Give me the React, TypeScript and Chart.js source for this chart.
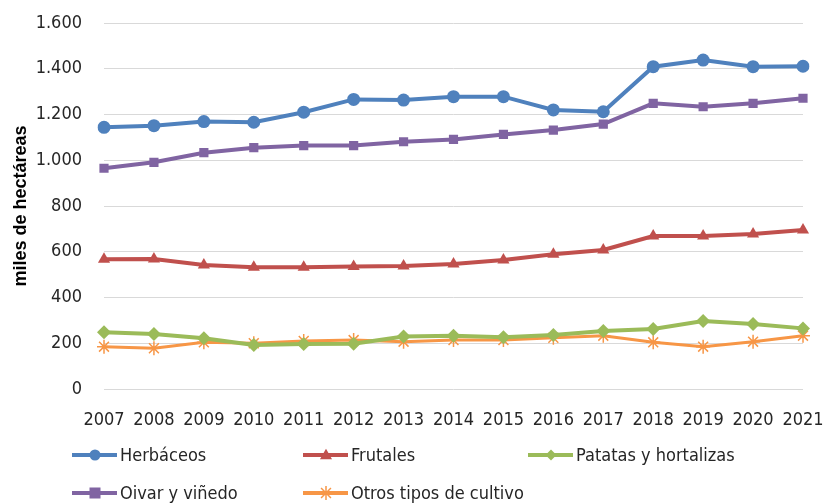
import React, { useEffect, useRef } from "react";
import { Chart, registerables } from "chart.js";

Chart.register(...registerables);

const years = ["2007","2008","2009","2010","2011","2012","2013","2014","2015","2016","2017","2018","2019","2020","2021"];
const herbaceos = [1144,1151,1169,1166,1210,1266,1263,1278,1278,1220,1212,1409,1438,1409,1411];
const frutales = [567,568,542,532,532,536,538,546,564,589,608,669,669,678,695];
const patatas = [248,240,222,192,197,198,229,233,226,236,254,262,297,284,265];
const olivar = [965,991,1033,1055,1064,1064,1081,1091,1113,1132,1158,1249,1234,1249,1271];
const otros = [185,178,204,200,210,214,207,214,214,224,233,204,185,207,233];

const FONT = "'Liberation Sans Narrow', 'DejaVu Sans Condensed', 'Arial Narrow', sans-serif";
const TEXT = "#262626";

function fmt(v: number) {
  const s = String(Math.round(v));
  return s.replace(/\B(?=(\d{3})+(?!\d))/g, ".");
}

function drawMarker(ctx: CanvasRenderingContext2D, style: string, x: number, y: number, r: number, color: string) {
  ctx.save();
  ctx.fillStyle = color;
  ctx.strokeStyle = color;
  ctx.beginPath();
  if (style === "circle") {
    ctx.arc(x, y, r, 0, Math.PI * 2);
    ctx.fill();
  } else if (style === "triangle") {
    const h = r * 1.9;
    ctx.moveTo(x, y - h * 0.6);
    ctx.lineTo(x + r * 1.1, y + h * 0.4);
    ctx.lineTo(x - r * 1.1, y + h * 0.4);
    ctx.closePath();
    ctx.fill();
  } else if (style === "rectRot") {
    ctx.moveTo(x, y - r);
    ctx.lineTo(x + r, y);
    ctx.lineTo(x, y + r);
    ctx.lineTo(x - r, y);
    ctx.closePath();
    ctx.fill();
  } else if (style === "rect") {
    ctx.fillRect(x - r, y - r, r * 2, r * 2);
  } else if (style === "star") {
    ctx.lineWidth = 1.5;
    for (let i = 0; i < 4; i++) {
      const a = (i * Math.PI) / 4;
      ctx.moveTo(x - Math.cos(a) * r, y - Math.sin(a) * r);
      ctx.lineTo(x + Math.cos(a) * r, y + Math.sin(a) * r);
    }
    ctx.stroke();
  }
  ctx.restore();
}

const gridLegend = {
  id: "gridLegend",
  afterDraw(chart: any) {
    const ctx = chart.ctx as CanvasRenderingContext2D;
    const cols = [72, 303, 528];
    const rows = [455, 493];
    chart.data.datasets.forEach((ds: any, i: number) => {
      const x = cols[i % 3];
      const y = rows[Math.floor(i / 3)];
      ctx.save();
      ctx.strokeStyle = ds.borderColor;
      ctx.lineWidth = 4;
      ctx.beginPath();
      ctx.moveTo(x, y);
      ctx.lineTo(x + 45, y);
      ctx.stroke();
      ctx.restore();
      drawMarker(ctx, ds.pointStyle, x + 23, y, ds.pointStyle === "star" ? 7 : 5.5, ds.borderColor);
      ctx.save();
      ctx.fillStyle = TEXT;
      ctx.font = `18px ${FONT}`;
      ctx.textBaseline = "middle";
      ctx.textAlign = "left";
      ctx.fillText(ds.label, x + 48, y + 1);
      ctx.restore();
    });
  },
};

export default function App() {
  const ref = useRef<HTMLCanvasElement | null>(null);
  useEffect(() => {
    if (!ref.current) return;
    const mk = (label: string, data: number[], color: string, pointStyle: string, radius: number, bw = 4) => ({
      label,
      data,
      borderColor: color,
      backgroundColor: color,
      pointBackgroundColor: color,
      pointBorderColor: color,
      pointStyle,
      pointRadius: radius,
      pointBorderWidth: pointStyle === "star" ? 1.5 : 0,
      borderWidth: bw,
      tension: 0,
    });
    const chart = new Chart(ref.current, {
      type: "line",
      data: {
        labels: years,
        datasets: [
          mk("Herbáceos", herbaceos, "#4F81BD", "circle", 6.5),
          mk("Frutales", frutales, "#C0504D", "triangle", 7),
          mk("Patatas y hortalizas", patatas, "#9BBB59", "rectRot", 7),
          mk("Oivar y viñedo", olivar, "#8064A2", "rect", 6.5),
          mk("Otros tipos de cultivo", otros, "#F79646", "star", 7, 3),
        ] as any,
      },
      options: {
        animation: false,
        responsive: false,
        maintainAspectRatio: false,
        layout: { padding: { top: 23, right: 21, bottom: 75, left: 0 } },
        plugins: { legend: { display: false }, tooltip: { enabled: false } },
        scales: {
          x: {
            offset: false,
            grid: { display: false, drawTicks: false },
            border: { display: false },
            ticks: { color: TEXT, font: { family: FONT, size: 18 }, padding: 21, maxRotation: 0, autoSkip: false },
            afterFit: (s: any) => { s.height = 40; s.paddingLeft = 0; s.paddingRight = 0; },
          },
          y: {
            min: 0,
            max: 1600,
            grid: { color: "#d9d9d9", lineWidth: 1, drawTicks: false },
            border: { display: false },
            ticks: { stepSize: 200, color: TEXT, font: { family: FONT, size: 18 }, padding: 22, callback: (v: any) => fmt(Number(v)) },
            title: { display: true, text: "miles de hectáreas", color: "#000", font: { family: "'Liberation Sans', Arial, sans-serif", size: 18, weight: "bold" }, padding: { top: 10, bottom: 0 } },
            afterFit: (s: any) => { s.width = 104; s.paddingTop = 0; s.paddingBottom = 0; },
          },
        },
      } as any,
      plugins: [gridLegend],
    });
    return () => chart.destroy();
  }, []);
  return (
    <div style={{ position: "absolute", left: 0, top: 0, width: 824, height: 504, background: "#fff" }}>
      <canvas ref={ref} width={824} height={504} style={{ width: 824, height: 504, display: "block" }} />
    </div>
  );
}
